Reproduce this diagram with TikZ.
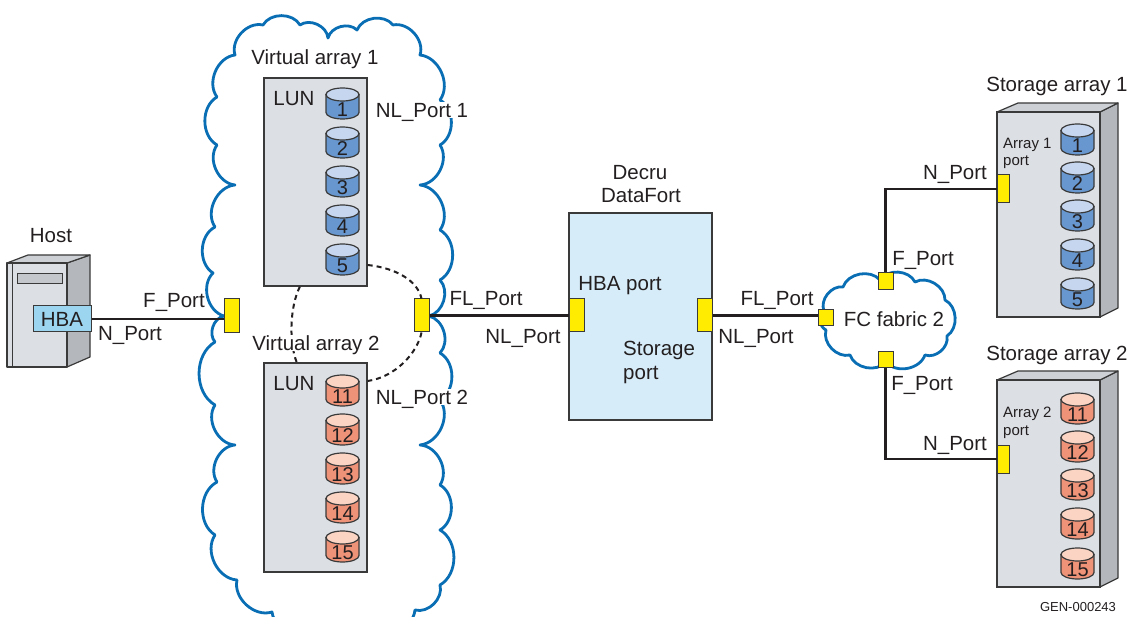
\documentclass[tikz,border=0pt]{standalone}
\usepackage{fontspec}
\setmainfont{Liberation Sans}
\usetikzlibrary{calc}

\definecolor{cloudblue}{HTML}{0A6EB4}
\definecolor{boxgray}{HTML}{DCDFE4}
\definecolor{sidegray}{HTML}{B4B7BB}
\definecolor{topgray}{HTML}{CDD0D4}
\definecolor{slotgray}{HTML}{C4C7CB}
\definecolor{portyellow}{HTML}{FFEC00}
\definecolor{hbablue}{HTML}{9BD5EF}
\definecolor{fortblue}{HTML}{D6ECF8}
\definecolor{diskblue}{HTML}{6797CE}
\definecolor{disktopblue}{HTML}{C6D6EE}
\definecolor{diskorange}{HTML}{EF9378}
\definecolor{disktoporange}{HTML}{FBD4C4}
\definecolor{ink}{HTML}{231F20}
\definecolor{edge}{HTML}{3A3A3A}

\tikzset{
  lbl/.style={font=\fontsize{20.5}{24}\selectfont, text=ink, inner sep=1pt,
              text height=14.7pt, text depth=0pt},
  smalllbl/.style={font=\fontsize{15}{17}\selectfont, text=ink, inner sep=0pt,
              text height=10.7pt, text depth=0pt},
  tinylbl/.style={font=\fontsize{13}{15}\selectfont, text=ink, inner sep=0pt,
              text height=9.3pt, text depth=0pt},
  disknum/.style={font=\fontsize{20}{22}\selectfont, text=ink, inner sep=0pt,
              text height=14.3pt, text depth=0pt, minimum width=33pt},
  portbox/.style={draw=edge, line width=1pt, fill=portyellow, inner sep=0pt},
  wire/.style={line width=2.5pt, draw=ink},
  lunbox/.style={draw=edge, line width=1.4pt, fill=boxgray, inner sep=0pt},
  cloudline/.style={draw=cloudblue, line width=2.8pt, line join=round},
  dashedlink/.style={draw=ink, line width=2pt, dash pattern=on 5pt off 4pt},
  shell/.style={draw=edge, line width=1.2pt, line join=round},
}

% one LUN cylinder: centre x, top y, number, node name, colour set
\newcommand{\lundisk}[5]{%
  \filldraw[fill=disk#5, draw=edge, line width=1.2pt]
    (#1-16.5,#2+6.5) -- (#1-16.5,#2+24.5)
    .. controls (#1-16.5,#2+28.1) and (#1-9.1,#2+31) .. (#1,#2+31)
    .. controls (#1+9.1,#2+31) and (#1+16.5,#2+28.1) .. (#1+16.5,#2+24.5)
    -- (#1+16.5,#2+6.5) -- cycle;
  \filldraw[fill=disktop#5, draw=edge, line width=1.2pt]
    (#1,#2+6.5) ellipse [x radius=16.5pt, y radius=6.5pt];
  \coordinate (#4-top) at (#1+16.5,#2+6);
  \node[disknum] (#4) at (#1,#2+21) {#3};
}

\begin{document}
\begin{tikzpicture}[x=1pt,y=-1pt]
\useasboundingbox (0,0) rectangle (1138,617);

% ---------- virtual array cloud ----------
\begin{scope}
  \clip (0,0) rectangle (1138,617);
  \draw[cloudline, every to/.style={bend left=60}]
    (224,316) to (213,273) to (215,227) to (235,185) to (217,145) to (217,97)
    to (235,55) to (263,25) to (300,25) to (328,38) to (357,30) to (393,25)
    to (420,55) to (440,100) to (440,145) to (420,185) to (440,230) to (440,280)
    to (429,316) to (440,353) to (440,400) to (420,445) to (440,485) to (440,530)
    to (440,585) to (415,610) to (370,630) to (320,632) to (272,612) to (237,580)
    to (215,535) to (217,482) to (235,445) to (215,405) to (215,342) to (224,316);
\end{scope}

% ---------- FC fabric cloud ----------
\draw[cloudline, every to/.style={bend left=60}]
  (824,311) to (843,287) to (880,280) to (915,282) to (945,300) to (947,336)
  to (925,355) to (886,362) to (850,355) to (826,330) to (824,311);
\node[lbl] (fabric) at (894,319) {FC fabric 2};

% ---------- host ----------
\filldraw[shell, fill=sidegray] (67,263) -- (90,255) -- (90,357) -- (67,367) -- cycle;
\filldraw[shell, fill=topgray] (7,263) -- (28,255) -- (90,255) -- (67,263) -- cycle;
\filldraw[shell, fill=boxgray] (7,263) rectangle (67,367);
\draw[edge, line width=1pt] (12,263) -- (12,367);
\filldraw[draw=edge, line width=0.8pt, fill=slotgray] (17,273) rectangle (62,283);
\node[lbl] (hostlbl) at (51,235) {Host};
\node[lbl, draw=edge, line width=1pt, fill=hbablue, minimum width=58pt,
      minimum height=26pt, inner sep=0pt] (hba) at (62,319) {HBA};

% ---------- virtual arrays ----------
\node[lunbox, minimum width=103pt, minimum height=208pt] (va1) at (315.5,182) {};
\node[lunbox, minimum width=103pt, minimum height=209pt] (va2) at (315.5,467.5) {};
\node[lbl] (va1lbl) at (315,57) {Virtual array 1};
\node[lbl] (lun1) at (294,98) {LUN};
\node[lbl] (lun2) at (294,383) {LUN};

\lundisk{342.5}{88}{1}{v1}{blue}
\lundisk{342.5}{127}{2}{v2}{blue}
\lundisk{342.5}{166}{3}{v3}{blue}
\lundisk{342.5}{205}{4}{v4}{blue}
\lundisk{342.5}{244}{5}{v5}{blue}

\lundisk{342.5}{375}{11}{v11}{orange}
\lundisk{342.5}{414}{12}{v12}{orange}
\lundisk{342.5}{453}{13}{v13}{orange}
\lundisk{342.5}{492}{14}{v14}{orange}
\lundisk{342.5}{531}{15}{v15}{orange}

% ---------- ports ----------
\node[portbox, minimum width=15pt, minimum height=34pt] (p1) at (231.5,316) {};
\node[portbox, minimum width=15pt, minimum height=33pt] (p2) at (421.5,315.5) {};

% dashed links between the virtual arrays and the loop port
\draw[dashedlink] (v5.east -| va1.east) .. controls +(28,3) and +(-4,-18) .. (p2.north);
\draw[dashedlink] (p2.south) .. controls +(-4,20) and +(28,-4) .. (v11-top -| va2.east);
\draw[dashedlink] ($(va1.south west)!0.35!(va1.south east)$)
  .. controls +(-10,20) and +(-8,-20) .. ($(va2.north west)!0.32!(va2.north east)$);

\node[lbl, fill=white] (va2lbl) at (316,343) {Virtual array 2};
\node[lbl, fill=white] (nl1) at (422,110) {NL\_Port 1};
\node[lbl, fill=white] (nl2) at (422,397) {NL\_Port 2};

% ---------- Decru DataFort ----------
\node[draw=edge, line width=2pt, fill=fortblue, minimum width=143pt,
      minimum height=207pt, inner sep=0pt] (fort) at (640.5,316.5) {};
\node[lbl] (decru) at (640,172) {Decru};
\node[lbl] (datafort) at (641,195) {DataFort};
\node[lbl] (hbaport) at (620,283) {HBA port};
\node[lbl, anchor=west] (stor1) at (622,348) {Storage};
\node[lbl, anchor=west] (stor2) at (622,372) {port};
\node[portbox, minimum width=15pt, minimum height=33pt] (p3) at (576.5,315.5) {};
\node[portbox, minimum width=15pt, minimum height=33pt] (p4) at (704.5,315.5) {};

% fabric ports
\node[portbox, minimum width=15pt, minimum height=16pt] (p5) at (825.5,318) {};
\node[portbox, minimum width=15pt, minimum height=17pt] (p6) at (885.5,281.5) {};
\node[portbox, minimum width=15pt, minimum height=16pt] (p7) at (885.5,360) {};

% ---------- storage arrays ----------
\filldraw[shell, fill=sidegray] (1100,112) -- (1118,103) -- (1118,308) -- (1100,317) -- cycle;
\filldraw[shell, fill=topgray] (997,112) -- (1018,103) -- (1118,103) -- (1100,112) -- cycle;
\node[lunbox, minimum width=103pt, minimum height=205pt] (sa1) at (1048.5,214.5) {};
\filldraw[shell, fill=sidegray] (1100,380) -- (1118,371) -- (1118,578) -- (1100,587) -- cycle;
\filldraw[shell, fill=topgray] (997,380) -- (1018,371) -- (1118,371) -- (1100,380) -- cycle;
\node[lunbox, minimum width=103pt, minimum height=207pt] (sa2) at (1048.5,483.5) {};

\node[lbl] (sa1lbl) at (1057,84) {Storage array 1};
\node[lbl] (sa2lbl) at (1057,353) {Storage array 2};
\node[smalllbl, anchor=west] (a1p1) at (1003,143) {Array 1};
\node[smalllbl, anchor=west] (a1p2) at (1003,160) {port};
\node[smalllbl, anchor=west] (a2p1) at (1003,412) {Array 2};
\node[smalllbl, anchor=west] (a2p2) at (1003,430) {port};

\lundisk{1077.5}{124}{1}{s1}{blue}
\lundisk{1077.5}{162}{2}{s2}{blue}
\lundisk{1077.5}{200}{3}{s3}{blue}
\lundisk{1077.5}{239}{4}{s4}{blue}
\lundisk{1077.5}{278}{5}{s5}{blue}

\lundisk{1077.5}{393}{11}{s11}{orange}
\lundisk{1077.5}{431}{12}{s12}{orange}
\lundisk{1077.5}{469}{13}{s13}{orange}
\lundisk{1077.5}{508}{14}{s14}{orange}
\lundisk{1077.5}{548}{15}{s15}{orange}

\node[portbox, minimum width=12pt, minimum height=28pt] (p8) at (1003,189) {};
\node[portbox, minimum width=12pt, minimum height=28pt] (p9) at (1003,459) {};

% ---------- connectors ----------
\draw[wire] (hba.east) -- (hba.east -| p1.west);
\draw[wire] (p2.east) -- (p3.west);
\draw[wire] (p4.east) -- (p4.east -| p5.west);
\draw[wire] (p6.north) |- (p8.west);
\draw[wire] (p7.south) |- (p9.west);

% ---------- port labels ----------
\node[lbl] (fp1) at (174,300) {F\_Port};
\node[lbl] (np1) at (130,333) {N\_Port};
\node[lbl] (flp1) at (486,298) {FL\_Port};
\node[lbl] (nlp1) at (523,336) {NL\_Port};
\node[lbl] (flp2) at (777,298) {FL\_Port};
\node[lbl] (nlp2) at (756,336) {NL\_Port};
\node[lbl] (fp2) at (923,258) {F\_Port};
\node[lbl] (np2) at (955,172) {N\_Port};
\node[lbl] (fp3) at (922,383) {F\_Port};
\node[lbl] (np3) at (955,443) {N\_Port};

\node[tinylbl] (gen) at (1078,607) {GEN-000243};
\end{tikzpicture}
\end{document}
